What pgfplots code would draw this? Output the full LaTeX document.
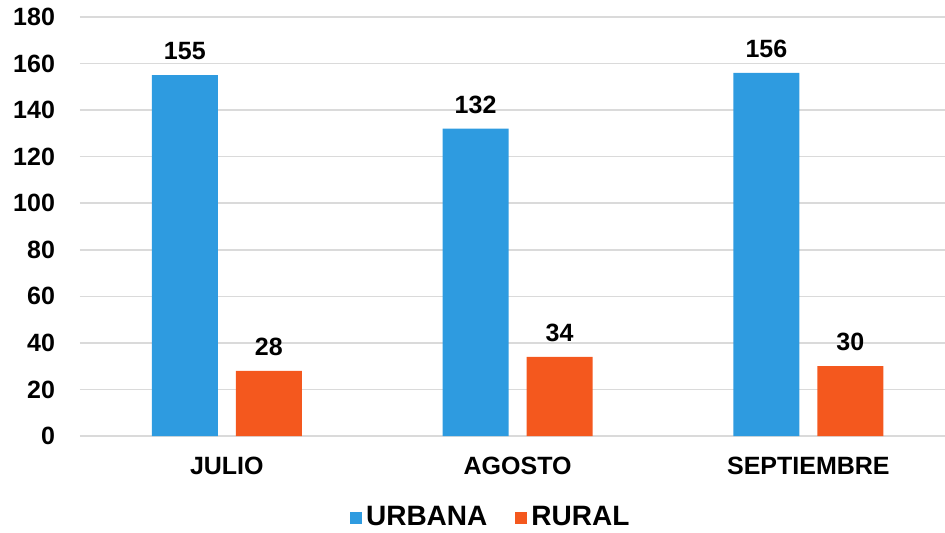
\documentclass[border=0pt]{standalone}
\usepackage{pgfplots}
\pgfplotsset{compat=1.18}
\usepackage{fontspec}
\setmainfont{Liberation Sans}

\definecolor{urbana}{HTML}{2E9BE0}
\definecolor{rural}{HTML}{F4581E}
\definecolor{gridgray}{HTML}{DADADA}

\begin{document}
\begin{tikzpicture}
\path[use as bounding box] (-40pt,-48pt) rectangle (432.5pt,218pt);
\begin{axis}[
    scale only axis,
    width=432.5pt, height=209.5pt,
    ymin=0, ymax=180,
    xmin=-0.505, xmax=2.47,
    ytick={0,20,...,180},
    xtick=data,
    xticklabels={JULIO,AGOSTO,SEPTIEMBRE},
    ybar, bar width=33pt,
    ymajorgrids,
    grid style={gridgray, line width=0.8pt},
    axis line style={draw=none},
    major tick length=0pt,
    tick label style={font=\fontsize{12.5}{15}\selectfont\bfseries},
    /pgf/number format/assume math mode=true,
    yticklabel style={xshift=-9pt},
    xticklabel style={yshift=-7pt},
    nodes near coords,
    every node near coord/.append style={font=\fontsize{12.5}{15}\selectfont\bfseries, yshift=4pt},
    legend style={at={(0.476,-0.195)}, anchor=center, draw=none, legend columns=2,
        font=\fontsize{14}{16}\selectfont\bfseries,
        /tikz/every even column/.append style={column sep=12pt}},
    legend image code/.code={\fill[#1] (0pt,-3pt) rectangle (6pt,3pt);},
]
\addplot[fill=urbana, draw=none, bar shift=-21pt] coordinates {(0,155) (1,132) (2,156)};
\addlegendentry{URBANA}
\addplot[fill=rural, draw=none, bar shift=21pt] coordinates {(0,28) (1,34) (2,30)};
\addlegendentry{RURAL}
\end{axis}
\end{tikzpicture}
\end{document}
